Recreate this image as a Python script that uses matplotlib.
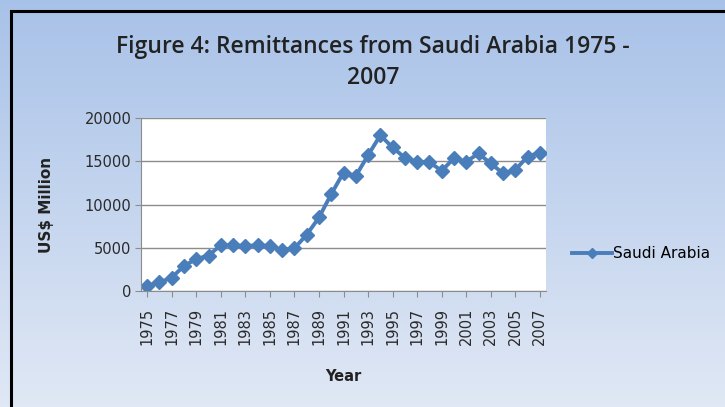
import numpy as np
import matplotlib
matplotlib.use("Agg")
import matplotlib.pyplot as plt
from matplotlib.patches import Rectangle

years = list(range(1975, 2008))
saudi = [600, 1000, 1550, 2900, 3700, 4100, 5300, 5300, 5200, 5300, 5200,
         4750, 4950, 6500, 8500, 11200, 13700, 13300, 15700, 18000, 16600,
         15400, 14950, 14900, 13900, 15350, 14950, 15900, 14750, 13600,
         14000, 15550, 16000]
tick_years = years[::2]

fig = plt.figure(figsize=(7.25, 4.07), dpi=100)
fig.patch.set_facecolor("white")

# gradient background of the chart area
bg = fig.add_axes([0, 0, 1, 1], zorder=0)
grad = np.linspace(0, 1, 256).reshape(-1, 1)
top = np.array([0.66, 0.76, 0.91])
bot = np.array([0.88, 0.91, 0.96])
img = top + (bot - top) * grad[:, :, None] * np.ones((1, 1, 3))
bg.imshow(img, aspect="auto", extent=[0, 1, 0, 1], origin="upper")
bg.set_xlim(0, 1)
bg.set_ylim(0, 1)
bg.axis("off")
bg.add_patch(Rectangle((0.0145, -0.05), 1.0, 1.023, fill=False,
                       edgecolor="black", linewidth=2.2, transform=bg.transAxes))

ax = fig.add_axes([0.1945, 0.285, 0.5586, 0.425], zorder=2)
ax.set_facecolor("white")
ax.plot(years, saudi, color="#4a7ebb", linewidth=2.8, marker="D",
        markersize=7, label="Saudi Arabia")
ax.set_xlim(1974.5, 2007.5)
ax.set_ylim(0, 20000)
ax.set_yticks([0, 5000, 10000, 15000, 20000])
ax.set_xticks(tick_years)
ax.set_xticklabels([str(y) for y in tick_years], rotation=90)
ax.grid(axis="y", color="#8c8c8c", linewidth=1.0)
ax.set_axisbelow(True)
for s in ["top", "right"]:
    ax.spines[s].set_visible(False)
for s in ["left", "bottom"]:
    ax.spines[s].set_color("#8c8c8c")
ax.tick_params(axis="both", colors="#8c8c8c", labelcolor="#2a2a2a",
               length=4)
ax.tick_params(axis="y", labelsize=10.5, pad=3)
ax.tick_params(axis="x", labelsize=10.5, pad=8)

ax.set_xlabel("Year", fontsize=10.5, fontweight="bold", labelpad=17,
              family="DejaVu Sans", color="#222222")
ax.set_ylabel("US$ Million", fontsize=11, fontweight="bold", labelpad=22,
              family="DejaVu Sans", color="#222222")

fig.text(0.515, 0.8845, "Figure 4: Remittances from Saudi Arabia 1975 -",
         ha="center", va="center", fontsize=16.5, fontweight="semibold",
         family="Open Sans", color="#222222")
fig.text(0.515, 0.808, "2007", ha="center", va="center", fontsize=16.5,
         fontweight="semibold", family="Open Sans", color="#222222")

ax.legend(loc="center left", bbox_to_anchor=(1.03, 0.215), frameon=False,
          fontsize=11, handlelength=2.6, markerscale=0.7, handletextpad=0.1)

fig.savefig("out.png", dpi=100)
